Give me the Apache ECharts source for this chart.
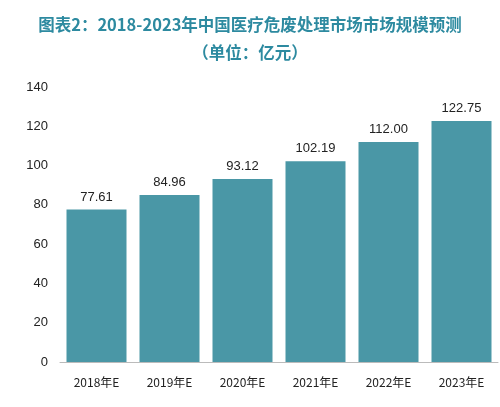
<!DOCTYPE html>
<html><head><meta charset="utf-8">
<script src="https://cdn.jsdelivr.net/npm/echarts@6/dist/echarts.min.js"></script>
<style>html,body{margin:0;padding:0;background:#fff}#c{width:500px;height:407px}</style>
</head><body><div id="c"></div>
<script>
const categories = ['2018年E','2019年E','2020年E','2021年E','2022年E','2023年E'];
const values = [77.61, 84.96, 93.12, 102.19, 112.00, 122.75];
const labels = ['77.61','84.96','93.12','102.19','112.00','122.75'];
const chart = echarts.init(document.getElementById('c'));
chart.setOption({
  animation:false,
  title:{text:'图表2：2018-2023年中国医疗危废处理市场市场规模预测\n（单位：亿元）',left:'center',top:6,
    textStyle:{color:'#2d8aa0',fontSize:16.5,fontWeight:'bold',lineHeight:28,fontFamily:'Noto Sans CJK SC'}},
  grid:{left:60,right:2,top:87,bottom:45},
  xAxis:{type:'category',data:categories,axisTick:{show:false},
    axisLine:{lineStyle:{color:'#bbb'}},
    axisLabel:{color:'#222',fontSize:12,margin:14,fontFamily:'Noto Sans CJK SC'}},
  yAxis:{type:'value',min:0,max:140,interval:20,splitLine:{show:false},
    axisLabel:{color:'#222',fontSize:13,margin:12}},
  series:[{type:'bar',data:values,barWidth:60,itemStyle:{color:'#4a97a6'},
    label:{show:true,position:'top',color:'#222',fontSize:13,distance:6,
      formatter:p=>labels[p.dataIndex]}}]
});
</script></body></html>
